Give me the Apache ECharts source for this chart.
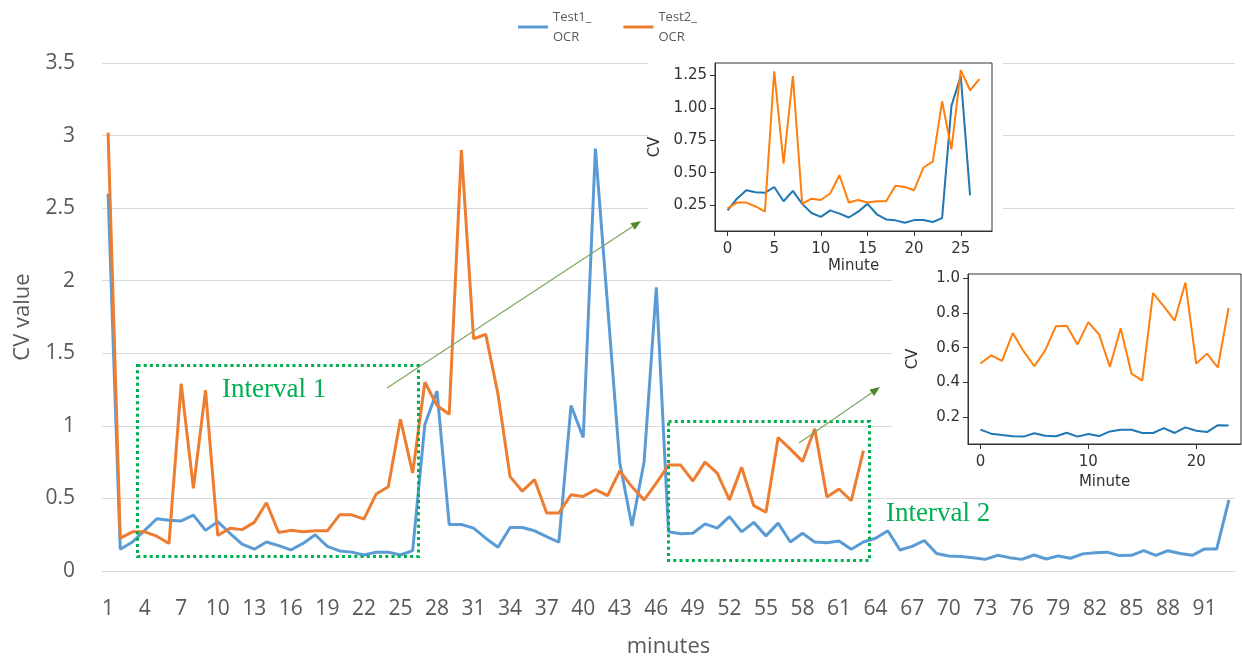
<!DOCTYPE html>
<html><head><meta charset="utf-8">
<script src="https://cdn.jsdelivr.net/npm/echarts@6/dist/echarts.min.js"></script>
<style>html,body{margin:0;padding:0;background:#fff}#c{width:1242px;height:656px}</style>
</head><body><div id="c"></div>
<script>
// ---- main chart data ----
const minutes = ['1','2','3','4','5','6','7','8','9','10','11','12','13','14','15','16','17','18','19','20',
'21','22','23','24','25','26','27','28','29','30','31','32','33','34','35','36','37','38','39','40',
'41','42','43','44','45','46','47','48','49','50','51','52','53','54','55','56','57','58','59','60',
'61','62','63','64','65','66','67','68','69','70','71','72','73','74','75','76','77','78','79','80',
'81','82','83','84','85','86','87','88','89','90','91','92','93'];
const test1OCR = [2.60,0.15,0.20,0.28,0.36,0.35,0.345,0.385,0.28,0.34,0.26,0.185,0.15,0.20,0.175,0.145,0.19,0.25,0.17,0.138,
0.13,0.11,0.13,0.13,0.11,0.14,1.01,1.24,0.32,0.32,0.295,0.226,0.164,0.30,0.30,0.277,0.237,0.198,1.14,0.92,
2.91,1.83,0.745,0.31,0.755,1.955,0.27,0.256,0.26,0.325,0.295,0.375,0.27,0.335,0.242,0.33,0.20,0.26,0.20,0.195,
0.207,0.15,0.20,0.226,0.277,0.145,0.17,0.21,0.12,0.104,0.10,0.092,0.08,0.108,0.092,0.08,0.11,0.083,0.104,0.088,
0.118,0.125,0.13,0.106,0.108,0.14,0.108,0.14,0.12,0.108,0.152,0.152,0.49];
const test2OCR = [3.02,0.226,0.27,0.27,0.24,0.19,1.29,0.57,1.245,0.245,0.295,0.285,0.335,0.47,0.265,0.28,0.27,0.277,0.277,0.387,
0.387,0.357,0.53,0.58,1.045,0.675,1.30,1.14,1.08,2.90,1.60,1.63,1.22,0.65,0.55,0.63,0.40,0.40,0.525,0.514,
0.56,0.52,0.69,0.58,0.49,0.605,0.73,0.73,0.62,0.75,0.675,0.49,0.715,0.45,0.405,0.92,0.84,0.755,0.98,0.51,
0.565,0.484,0.83];
const mainYTicks = [0,0.5,1,1.5,2,2.5,3,3.5];

// ---- inset 1 (interval 1) ----
const inset1Minute = [0,1,2,3,4,5,6,7,8,9,10,11,12,13,14,15,16,17,18,19,20,21,22,23,24,25,26,27];
const inset1Blue = [0.21,0.30,0.365,0.35,0.345,0.39,0.28,0.36,0.26,0.19,0.16,0.21,0.185,0.155,0.20,0.26,0.18,0.14,0.133,0.115,
0.135,0.135,0.12,0.15,1.015,1.245,0.325];
const inset1Orange = [0.225,0.27,0.27,0.24,0.20,1.28,0.57,1.245,0.26,0.30,0.29,0.34,0.48,0.27,0.29,0.27,0.28,0.28,0.40,0.39,
0.365,0.54,0.585,1.05,0.68,1.29,1.135,1.22];
const inset1XTicks = [0,5,10,15,20,25];
const inset1YTicks = [0.25,0.5,0.75,1.0,1.25];

// ---- inset 2 (interval 2) ----
const inset2Minute = [0,1,2,3,4,5,6,7,8,9,10,11,12,13,14,15,16,17,18,19,20,21,22,23];
const inset2Blue = [0.128,0.105,0.097,0.09,0.088,0.107,0.093,0.09,0.11,0.088,0.103,0.091,0.118,0.128,0.128,0.109,0.109,0.137,0.109,0.141,
0.122,0.114,0.154,0.152];
const inset2Orange = [0.509,0.556,0.524,0.684,0.58,0.493,0.585,0.724,0.726,0.619,0.747,0.676,0.49,0.712,0.451,0.41,0.914,0.838,0.756,0.975,
0.509,0.566,0.486,0.829];
const inset2XTicks = [0,10,20];
const inset2YTicks = [0.2,0.4,0.6,0.8,1.0];

const pairs = (xs, ys) => ys.map((v, i) => [xs[i], v]);

const GREY = '#595959';
const GRID = '#d9d9d9';
const MFONT = 'DejaVu Sans';

function insetX(grid, min, max, ticks, gap) {
  return {
    type: 'value', gridIndex: grid, min: min, max: max, z: 4,
    axisLine: { show: true, onZero: false, lineStyle: { color: '#333', width: 1 } },
    axisTick: { show: true, length: 5, customValues: ticks, lineStyle: { color: '#333' } },
    axisLabel: { customValues: ticks, color: '#333', fontSize: 15, fontFamily: MFONT, margin: 11 },
    splitLine: { show: false },
    name: 'Minute', nameLocation: 'middle', nameGap: gap,
    nameTextStyle: { color: '#333', fontSize: 15, fontFamily: MFONT }
  };
}
function insetY(grid, min, max, ticks, dec, gap) {
  return {
    type: 'value', gridIndex: grid, min: min, max: max, z: 4,
    axisLine: { show: true, onZero: false, lineStyle: { color: '#333', width: 1 } },
    axisTick: { show: true, length: 5, customValues: ticks, lineStyle: { color: '#333' } },
    axisLabel: { customValues: ticks, color: '#333', fontSize: 15, fontFamily: MFONT, margin: 8,
      formatter: v => Number(v).toFixed(dec) },
    splitLine: { show: false },
    name: 'CV', nameLocation: 'middle', nameGap: gap, nameRotate: 90,
    nameTextStyle: { color: '#333', fontSize: 15, fontFamily: MFONT }
  };
}

function arrow(x1, y1, x2, y2) {
  const ang = Math.atan2(y2 - y1, x2 - x1), L = 10, W = 4;
  const bx = x2 - L * Math.cos(ang), by = y2 - L * Math.sin(ang);
  const px = -Math.sin(ang) * W, py = Math.cos(ang) * W;
  return [
    { type: 'line', z: 20, shape: { x1: x1, y1: y1, x2: bx, y2: by }, style: { stroke: '#7aa860', lineWidth: 1.2 } },
    { type: 'polygon', z: 20, shape: { points: [[x2, y2], [bx + px, by + py], [bx - px, by - py]] }, style: { fill: '#4e8a2a' } }
  ];
}

const chart = echarts.init(document.getElementById('c'), null, { renderer: 'canvas' });
chart.setOption({
  animation: false,
  backgroundColor: '#fff',
  legend: {
    data: ['Test1_OCR', 'Test2_OCR'], left: 513, top: 2, itemGap: 32,
    icon: 'rect', itemWidth: 30, itemHeight: 3,
    formatter: n => n.replace('_', '_\n'),
    textStyle: { color: GREY, fontSize: 13, lineHeight: 20, fontFamily: 'Open Sans' }
  },
  grid: [
    { left: 102, right: 7, top: 63, bottom: 85, outerBoundsMode: 'none', containLabel: false },
    { left: 715, top: 63, width: 277, height: 168, show: true, borderColor: '#333', borderWidth: 1, backgroundColor: '#fff', z: 3,
      outerBoundsMode: 'none', containLabel: false },
    { left: 968, top: 274, width: 273, height: 170, show: true, borderColor: '#333', borderWidth: 1, backgroundColor: '#fff', z: 3,
      outerBoundsMode: 'none', containLabel: false }
  ],
  xAxis: [
    { type: 'category', gridIndex: 0, data: minutes, boundaryGap: true,
      axisLine: { lineStyle: { color: GRID, width: 1 } }, axisTick: { show: false },
      axisLabel: { interval: 2, color: GREY, fontSize: 21, fontFamily: 'Open Sans', margin: 28 },
      name: 'minutes', nameLocation: 'middle', nameGap: 65,
      nameTextStyle: { color: GREY, fontSize: 22, fontFamily: 'Open Sans' } },
    insetX(1, -1.35, 28.35, inset1XTicks, 28),
    insetX(2, -1.15, 24.15, inset2XTicks, 31)
  ],
  yAxis: [
    { type: 'value', gridIndex: 0, min: mainYTicks[0], max: mainYTicks[mainYTicks.length - 1], interval: 0.5,
      axisLine: { show: false }, axisTick: { show: false },
      splitLine: { lineStyle: { color: GRID, width: 1 } },
      axisLabel: { color: GREY, fontSize: 21, fontFamily: 'Open Sans', margin: 27 },
      name: 'CV value', nameLocation: 'middle', nameGap: 68, nameRotate: 90,
      nameTextStyle: { color: GREY, fontSize: 22, fontFamily: 'Open Sans' } },
    insetY(1, 0.051, 1.345, inset1YTicks, 2, 52),
    insetY(2, 0.0455, 1.0245, inset2YTicks, 1, 47)
  ],
  series: [
    { name: 'Test1_OCR', type: 'line', xAxisIndex: 0, yAxisIndex: 0, data: test1OCR, showSymbol: false,
      lineStyle: { color: '#5b9bd5', width: 3 }, itemStyle: { color: '#5b9bd5' }, z: 2 },
    { name: 'Test2_OCR', type: 'line', xAxisIndex: 0, yAxisIndex: 0, data: test2OCR, showSymbol: false,
      lineStyle: { color: '#ed7d31', width: 3 }, itemStyle: { color: '#ed7d31' }, z: 2 },
    { name: 'i1b', type: 'line', xAxisIndex: 1, yAxisIndex: 1, data: pairs(inset1Minute, inset1Blue), showSymbol: false,
      lineStyle: { color: '#1f77b4', width: 2 }, z: 5 },
    { name: 'i1o', type: 'line', xAxisIndex: 1, yAxisIndex: 1, data: pairs(inset1Minute, inset1Orange), showSymbol: false,
      lineStyle: { color: '#ff7f0e', width: 2 }, z: 5 },
    { name: 'i2b', type: 'line', xAxisIndex: 2, yAxisIndex: 2, data: pairs(inset2Minute, inset2Blue), showSymbol: false,
      lineStyle: { color: '#1f77b4', width: 2 }, z: 5 },
    { name: 'i2o', type: 'line', xAxisIndex: 2, yAxisIndex: 2, data: pairs(inset2Minute, inset2Orange), showSymbol: false,
      lineStyle: { color: '#ff7f0e', width: 2 }, z: 5 }
  ],
  graphic: [
    { type: 'rect', z: 1, shape: { x: 648, y: 48, width: 355, height: 228 }, style: { fill: '#fff' } },
    { type: 'rect', z: 1, shape: { x: 892, y: 262, width: 350, height: 233 }, style: { fill: '#fff' } },
    { type: 'rect', z: 20, shape: { x: 137.5, y: 365.5, width: 281, height: 191 },
      style: { fill: 'none', stroke: '#00b050', lineWidth: 3, lineDash: [3, 3.2] } },
    { type: 'rect', z: 20, shape: { x: 668.5, y: 421.5, width: 201, height: 139 },
      style: { fill: 'none', stroke: '#00b050', lineWidth: 3, lineDash: [3, 3.2] } },
    { type: 'text', z: 20, left: 222, top: 376,
      style: { text: 'Interval 1', fill: '#00b050', font: '27px "Liberation Serif"' } },
    { type: 'text', z: 20, left: 886, top: 500,
      style: { text: 'Interval 2', fill: '#00b050', font: '27px "Liberation Serif"' } }
  ].concat(arrow(387, 388, 641, 221), arrow(799, 443, 880, 387))
});
</script></body></html>
